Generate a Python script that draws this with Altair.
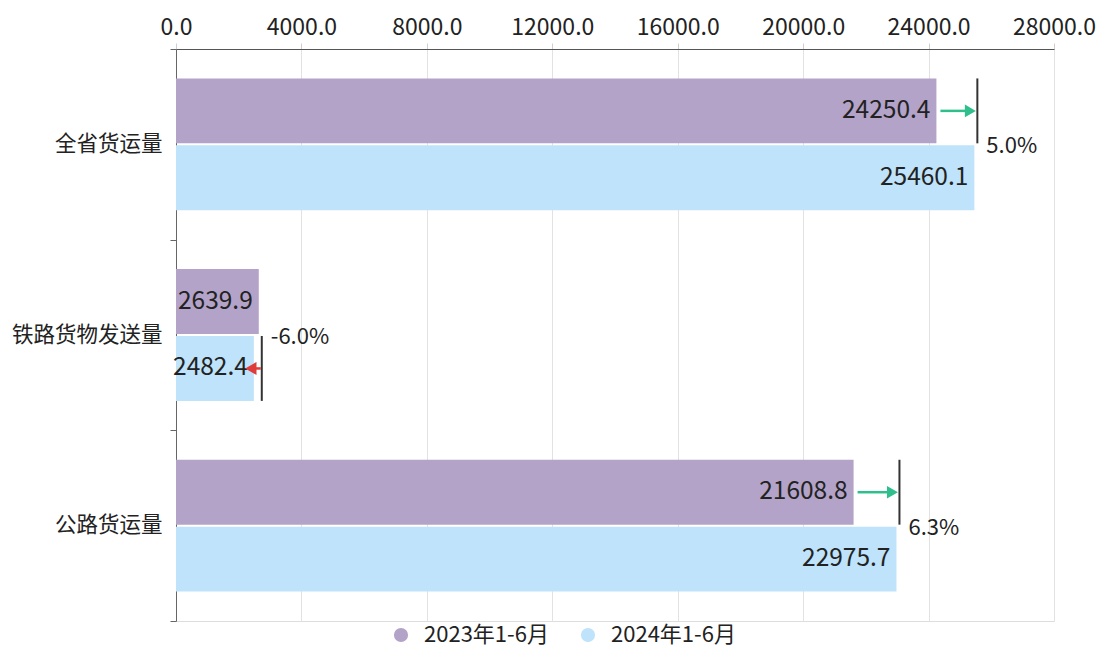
import altair as alt
import pandas as pd

categories = ["全省货运量", "铁路货物发送量", "公路货运量"]
series = ["2023年1-6月", "2024年1-6月"]
v2023 = [24250.4, 2639.9, 21608.8]
v2024 = [25460.1, 2482.4, 22975.7]
pct = ["5.0%", "-6.0%", "6.3%"]
x_ticks = [0, 4000, 8000, 12000, 16000, 20000, 24000, 28000]

FONT = "Noto Sans CJK SC"
colors = ["#b3a3c8", "#bee3fa"]

bars = []
for c, a, b in zip(categories, v2023, v2024):
    bars.append({"category": c, "series": series[0], "value": a, "label": f"{a:.1f}"})
    bars.append({"category": c, "series": series[1], "value": b, "label": f"{b:.1f}"})
bars = pd.DataFrame(bars)

chg = []
for c, a, b, p in zip(categories, v2023, v2024, pct):
    chg.append({
        "category": c, "v23": a, "v24": b, "vmax": max(a, b), "pct": p,
        "row": series[0] if b >= a else series[1],
        "dir": "up" if b >= a else "down",
    })
chg = pd.DataFrame(chg)

y_enc = alt.Y("category:N", sort=categories, title=None,
              scale=alt.Scale(paddingInner=0, paddingOuter=0),
              axis=alt.Axis(labelFontSize=21.5, labelFont=FONT, labelColor="#222",
                            tickBand="extent", tickSize=6, tickColor="#666",
                            domainColor="#666", labelPadding=8))
yoff_bar = alt.YOffset("series:N", sort=series,
                       scale=alt.Scale(paddingInner=0.03, paddingOuter=0.44))
yoff_row = alt.YOffset("row:N", sort=series,
                       scale=alt.Scale(paddingInner=0.03, paddingOuter=0.44))
x_scale = alt.Scale(domain=[0, 28000], nice=False)
x_enc = alt.X("value:Q", scale=x_scale, title=None,
              axis=alt.Axis(orient="top", values=x_ticks, format=".1f",
                            labelFontSize=23, labelFont=FONT, labelColor="#222",
                            labelFlush=False, labelOverlap=False,
                            gridColor="#e2e2e2", tickColor="#cfcfcf", tickSize=6,
                            domainColor="#555", labelPadding=4))

base_bar = alt.Chart(bars)
bar_layer = base_bar.mark_bar().encode(
    x=x_enc, y=y_enc, yOffset=yoff_bar,
    color=alt.Color("series:N", sort=series,
                    scale=alt.Scale(domain=series, range=colors),
                    legend=alt.Legend(orient="none", legendX=214, legendY=575,
                                      direction="horizontal", title=None,
                                      symbolType="circle", symbolSize=200,
                                      labelFontSize=22, labelFont=FONT,
                                      labelColor="#222", columnPadding=28,
                                      labelOffset=12, symbolOpacity=1)),
)
label_layer = base_bar.mark_text(align="right", dx=-6, fontSize=24.5, font=FONT,
                                 color="#222", baseline="middle").encode(
    x=alt.X("value:Q", scale=x_scale), y=alt.Y("category:N", sort=categories),
    yOffset=yoff_bar, text="label:N")

base_chg = alt.Chart(chg)
vline = base_chg.mark_bar(color="#333", xOffset=2, x2Offset=4).encode(
    x=alt.X("vmax:Q", scale=x_scale), x2="vmax:Q",
    y=alt.Y("category:N", sort=categories), yOffset=yoff_row)

up = base_chg.transform_filter(alt.datum.dir == "up")
down = base_chg.transform_filter(alt.datum.dir == "down")

up_line = up.mark_rule(color="#2ebf8c", strokeWidth=2.5, xOffset=4, x2Offset=-8).encode(
    x=alt.X("v23:Q", scale=x_scale), x2="v24:Q",
    y=alt.Y("category:N", sort=categories), yOffset=yoff_row)
up_head = up.mark_point(shape="triangle-right", filled=True, size=160, opacity=1,
                        color="#2ebf8c", xOffset=-4).encode(
    x=alt.X("v24:Q", scale=x_scale),
    y=alt.Y("category:N", sort=categories), yOffset=yoff_row)
down_line = down.mark_rule(color="#e03b3b", strokeWidth=2.5, xOffset=2, x2Offset=-2).encode(
    x=alt.X("v23:Q", scale=x_scale), x2="v24:Q",
    y=alt.Y("category:N", sort=categories), yOffset=yoff_row)
down_head = down.mark_point(shape="triangle-left", filled=True, size=170, opacity=1,
                            color="#e03b3b", xOffset=-3).encode(
    x=alt.X("v24:Q", scale=x_scale),
    y=alt.Y("category:N", sort=categories), yOffset=yoff_row)

pct_text = base_chg.mark_text(align="left", dx=12, dy=2, fontSize=22, font=FONT,
                              color="#222", baseline="middle").encode(
    x=alt.X("vmax:Q", scale=x_scale), y=alt.Y("category:N", sort=categories),
    text="pct:N")

chart = alt.layer(bar_layer, label_layer, vline, up_line, up_head, down_line,
                  down_head, pct_text).properties(
    width=878, height=572,
    autosize=alt.AutoSizeParams(type="none"),
    padding={"top": 41, "left": 168, "right": 46, "bottom": 31}
).configure_view(stroke=None).configure(font=FONT)

chart.save("out.html", embed_options={"renderer": "svg", "actions": False})
